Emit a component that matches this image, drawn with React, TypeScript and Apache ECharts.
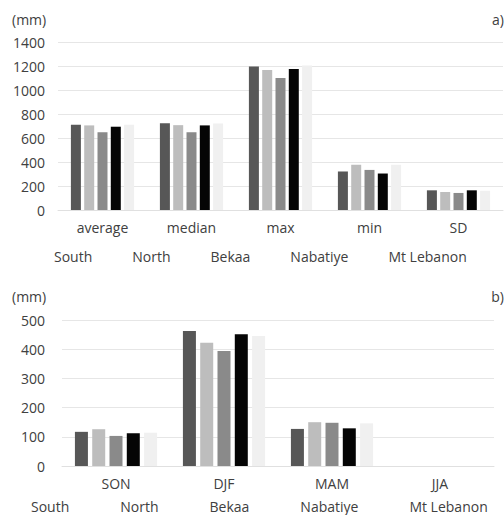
import React, { useEffect, useRef } from "react";
import * as echarts from "echarts";

const seriesNames = ["South", "North", "Bekaa", "Nabatiye", "Mt Lebanon"];
const colors = ["#575757", "#bdbdbd", "#8a8a8a", "#050505", "#f0f0f0"];

const statCategories = ["average", "median", "max", "min", "SD"];
const statSouth = [711, 722, 1195, 321, 164];
const statNorth = [705, 707, 1166, 377, 150];
const statBekaa = [648, 648, 1100, 334, 142];
const statNabatiye = [694, 705, 1175, 304, 164];
const statMtLebanon = [711, 721, 1205, 377, 160];
const statTicks = { min: 0, max: 1400, interval: 200 };

const seasonCategories = ["SON", "DJF", "MAM", "JJA"];
const seasonSouth = [117, 462, 127, 0];
const seasonNorth = [126, 422, 150, 0];
const seasonBekaa = [103, 394, 148, 0];
const seasonNabatiye = [112, 451, 129, 0];
const seasonMtLebanon = [114, 445, 146, 0];
const seasonTicks = { min: 0, max: 500, interval: 100 };

const FONT = "Open Sans";
const TEXT = "#404040";
const FS = 14;

export default function App() {
  const ref = useRef<HTMLDivElement>(null);
  useEffect(() => {
    if (!ref.current) return;
    const chart = echarts.init(ref.current, undefined, { renderer: "svg" });
    const statData = [statSouth, statNorth, statBekaa, statNabatiye, statMtLebanon];
    const seasonData = [seasonSouth, seasonNorth, seasonBekaa, seasonNabatiye, seasonMtLebanon];

    const mkSeries = (data: number[][], idx: number, barWidth: number) =>
      seriesNames.map((name, i) => ({
        name,
        type: "bar",
        xAxisIndex: idx,
        yAxisIndex: idx,
        data: data[i],
        barWidth,
        barGap: "33%",
        itemStyle: { color: colors[i] },
      }));

    const yLabel = {
      color: TEXT,
      fontFamily: FONT,
      fontSize: FS,
      formatter: (v: number) => String(v),
    };
    const yAxisCommon = {
      type: "value",
      axisLine: { show: false },
      axisTick: { show: false },
      splitLine: { lineStyle: { color: "#e6e6e6", width: 1 } },
    };
    const xAxisCommon = {
      type: "category",
      axisLine: { show: true, lineStyle: { color: "#e0e0e0" } },
      axisTick: { show: false },
      axisLabel: { color: TEXT, fontFamily: FONT, fontSize: FS, margin: 10 },
    };
    const legendCommon = {
      data: seriesNames,
      icon: "rect",
      itemWidth: 0,
      itemHeight: 0,
      textStyle: { color: TEXT, fontFamily: FONT, fontSize: FS },
      selectedMode: false,
    };

    chart.setOption({
      animation: false,
      backgroundColor: "#ffffff",
      grid: [
        { left: 58, right: 1, top: 42, height: 168 },
        { left: 62, right: 10, top: 320, height: 146 },
      ],
      xAxis: [
        { ...xAxisCommon, gridIndex: 0, data: statCategories },
        { ...xAxisCommon, gridIndex: 1, data: seasonCategories },
      ],
      yAxis: [
        { ...yAxisCommon, gridIndex: 0, ...statTicks, axisLabel: { ...yLabel, margin: 13 } },
        { ...yAxisCommon, gridIndex: 1, ...seasonTicks, axisLabel: { ...yLabel, margin: 17 } },
      ],
      legend: [
        { ...legendCommon, left: 44, top: 244, itemGap: 35 },
        { ...legendCommon, left: 21, top: 494, itemGap: 46 },
      ],
      graphic: [
        { type: "text", left: 12, top: 12, style: { text: "(mm)", fill: TEXT, font: `${FS}px '${FONT}'` } },
        { type: "text", right: 0, top: 12, style: { text: "a)", fill: TEXT, font: `${FS}px '${FONT}'` } },
        { type: "text", left: 12, top: 289, style: { text: "(mm)", fill: TEXT, font: `${FS}px '${FONT}'` } },
        { type: "text", right: 0, top: 289, style: { text: "b)", fill: TEXT, font: `${FS}px '${FONT}'` } },
      ],
      series: [...mkSeries(statData, 0, 10), ...mkSeries(seasonData, 1, 13)],
    });
    return () => chart.dispose();
  }, []);
  return (
    <div
      ref={ref}
      style={{ position: "fixed", left: 0, top: 0, width: 504, height: 515, background: "#fff" }}
    />
  );
}
